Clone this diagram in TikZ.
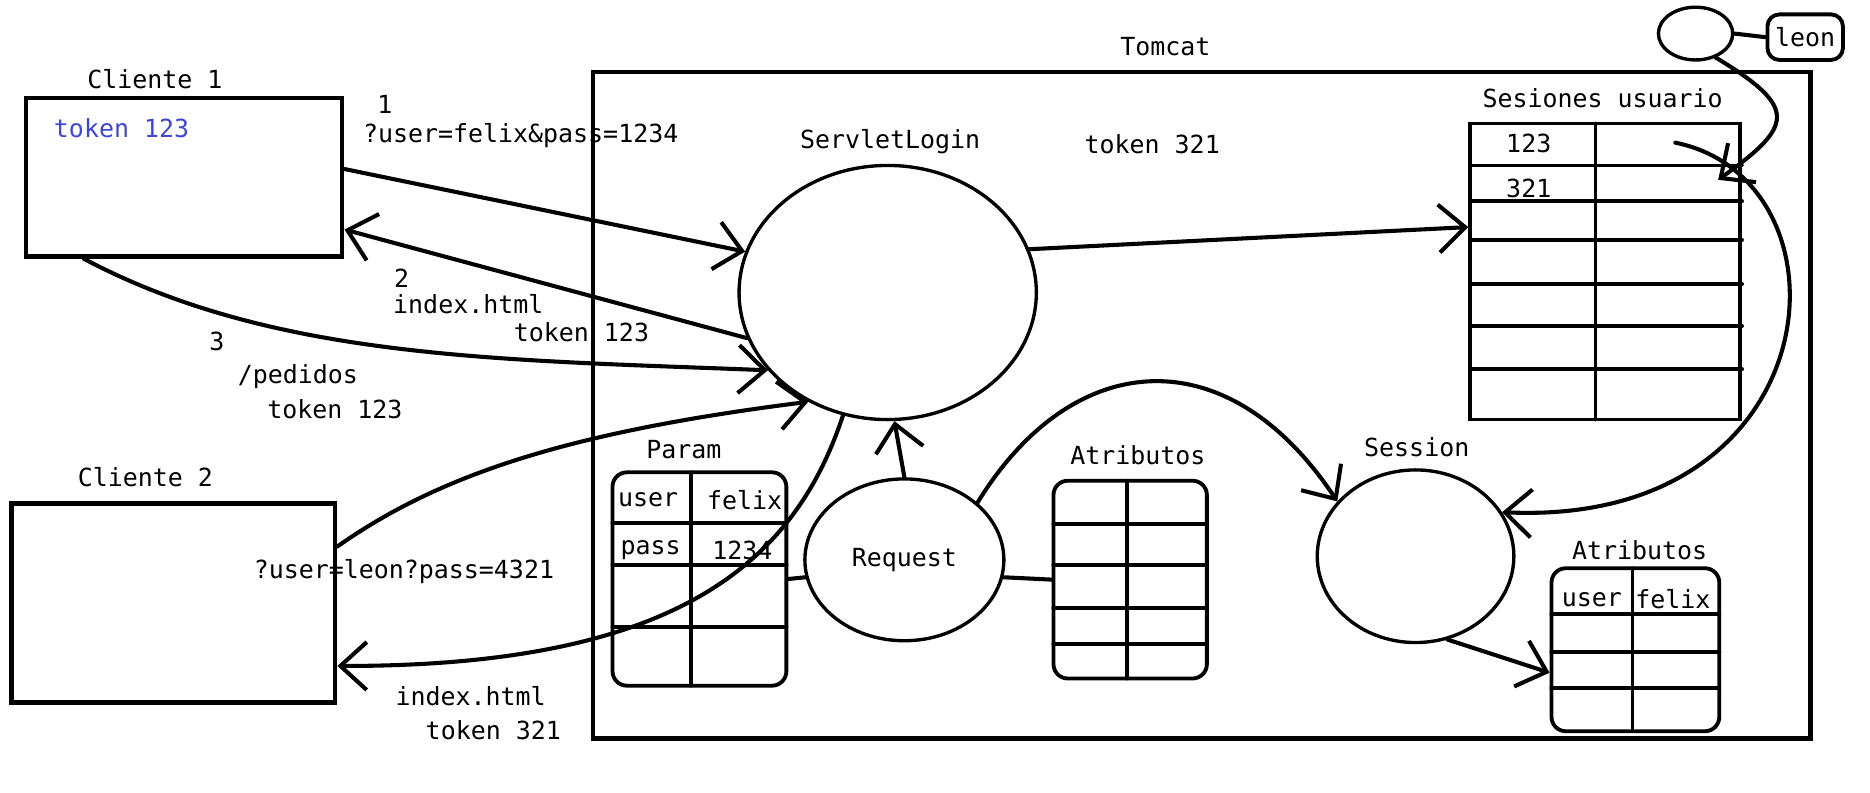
\documentclass[tikz,border=0pt]{standalone}
\usepackage{fontspec}
\setmonofont{DejaVu Sans Mono}
\usetikzlibrary{arrows.meta,shapes.geometric}
\definecolor{paintblue}{RGB}{63,72,204}

\begin{document}
\begin{tikzpicture}
[x=0.497pt,y=-0.5pt
,lbl/.style={inner sep=0pt,font=\fontsize{10.4}{12}\ttfamily}
,box/.style={draw,line width=1.8pt,inner sep=0pt}
,proc/.style={ellipse,draw,line width=1.4pt,inner sep=0pt,font=\fontsize{10.4}{12}\ttfamily}
,tbl/.style={draw,line width=1.6pt,rounded corners=6pt,inner sep=0pt}
,tline/.style={line width=1.6pt,line cap=round}
,con/.style={line width=1.7pt,line cap=round}
,arr/.style={con,-{Straight Barb[length=11pt,width=20pt]}}
]
\useasboundingbox (0,0) rectangle (1569.4,660.7);
% clients
\node[box,minimum width=132pt,minimum height=66pt] (c1) at (154.5,148) {};
\node[box,minimum width=135pt,minimum height=83pt] (c2) at (145.5,503) {};
\node[lbl] (lc1) at (130,66) {Cliente 1};
\node[lbl] (lc2) at (122,398) {Cliente 2};
\node[lbl,text=paintblue] (tk1) at (102,107) {token 123};
% server
\node[box,minimum width=508pt,minimum height=278pt] (tomcat) at (1008.5,338) {};
\node[lbl] (ltomcat) at (978,39) {Tomcat};
\node[proc,minimum width=124pt,minimum height=106pt] (login) at (745,244) {};
\node[lbl] (llogin) at (747,118) {ServletLogin};
\node[lbl] (tk2) at (967,120) {token 321};
\node[proc,minimum width=83pt,minimum height=67.5pt] (request) at (759,467) {Request};
\node[proc,minimum width=82pt,minimum height=72pt] (session) at (1188,464) {};
\node[lbl] (lsession) at (1189,373) {Session};
% sessions table
\node[box,line width=1.6pt,minimum width=112.5pt,minimum height=123.5pt] (sesiones) at (1347,226.5) {};
\node[lbl] (lsesiones) at (1345,82) {Sesiones usuario};
\foreach \y in {138,168,200,237,272,308}
  \draw[tline] (1234,\y) -- (1462,\y);
\draw[tline] (1339,103) -- (1339,350);
\node[lbl] (s1) at (1283,120) {123};
\node[lbl] (s2) at (1283,157) {321};
\coordinate (s123) at (1406,119);
\coordinate (s321) at (1442,150);
% param table
\node[tbl,minimum width=72.5pt,minimum height=89pt] (param) at (587,483) {};
\node[lbl] (lparam) at (574,375) {Param};
\foreach \y in {436,471,523}
  \draw[tline] (514,\y) -- (660,\y);
\draw[tline] (580,394) -- (580,572);
\node[lbl] (p1) at (544,417) {user};
\node[lbl] (p2) at (625,417) {felix};
\node[lbl] (p3) at (546,459) {pass};
\node[lbl] (p4) at (623,459) {1234};
% request attributes
\node[tbl,minimum width=64pt,minimum height=82.5pt] (attr1) at (948.5,483.5) {};
\node[lbl] (lattr1) at (955,380) {Atributos};
\foreach \y in {437,471,507,537}
  \draw[tline] (884,\y) -- (1013,\y);
\draw[tline] (946,401) -- (946,566);
% session attributes
\node[tbl,minimum width=70pt,minimum height=68pt] (attr2) at (1372.5,542) {};
\node[lbl] (lattr2) at (1376,459) {Atributos};
\foreach \y in {512,544,574}
  \draw[tline] (1302,\y) -- (1443,\y);
\draw[tline] (1370,474) -- (1370,610);
\node[lbl] (a1) at (1336,500) {user};
\node[lbl] (a2) at (1404,500) {felix};
% user bubble
\node[proc,minimum width=31pt,minimum height=22pt] (bubble) at (1423,28) {};
\node[tbl,rounded corners=5pt,minimum width=31.5pt,minimum height=19pt,font=\fontsize{10.4}{12}\ttfamily] (leon) at (1515,31) {leon};
\draw[con] (bubble.east) -- (leon.west);
% requests
\draw[arr] (c1.3.5) -- (login.164.8);
\draw[arr] (login.198.6) -- (c1.342.4);
\draw[arr] (c1.219.4) .. controls (230,300) and (420,300) .. (login.213.8);
\draw[arr] (c2.19.8) .. controls (370,395) and (480,360) .. (login.234.6);
\draw[arr] (login.250.7) .. controls (665,475) and (560,556) .. (c2.339.1);
\node[lbl] (n1) at (323,87) {1};
\node[lbl] (q1) at (437,113) {?user=felix\&pass=1234};
\node[lbl] (n2) at (337,232) {2};
\node[lbl] (r1) at (393,254) {index.html};
\node[lbl] (r1t) at (488,277) {token 123};
\node[lbl] (n3) at (182,285) {3};
\node[lbl] (q3) at (250,314) {/pedidos};
\node[lbl] (q3t) at (281,341) {token 123};
\node[lbl] (q2) at (339,477) {?user=leon?pass=4321};
\node[lbl] (r2) at (395,581) {index.html};
\node[lbl] (r2t) at (414,609) {token 321};
% inside tomcat
\draw[arr] (request.north) -- (login.273);
\draw[arr] (login.17.5) -- (sesiones.162.1);
\draw[con] (param.east) -- (request.190);
\draw[con] (request.-10) -- (attr1.west);
\draw[arr] (request.38.5) .. controls (900,290) and (1030,280) .. (session.145.3);
\draw[arr] (s123) .. controls (1560,150) and (1540,440) .. (session.27);
\draw[arr] (bubble.310.4) .. controls (1510,90) and (1505,105) .. (s321);
\draw[arr] (session.291.8) -- (attr2.195.1);
\end{tikzpicture}
\end{document}
